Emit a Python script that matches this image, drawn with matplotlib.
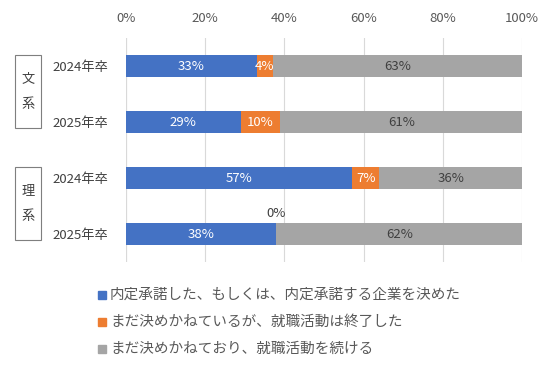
import numpy as np
import matplotlib.pyplot as plt
from matplotlib.patches import Rectangle

plt.rcParams['font.family'] = ['Noto Sans CJK JP', 'DejaVu Sans']

# データ
categories = ['2024年卒', '2025年卒', '2024年卒', '2025年卒']
groups = ['文系', '理系']
series_names = ['内定承諾した、もしくは、内定承諾する企業を決めた',
                'まだ決めかねているが、就職活動は終了した',
                'まだ決めかねており、就職活動を続ける']
decided = [33, 29, 57, 38]
undecided_end = [4, 10, 7, 0]
continuing = [63, 61, 36, 62]
colors = ['#4472C4', '#ED7D31', '#A5A5A5']
label_colors = ['white', 'white', '#404040']

fig = plt.figure(figsize=(5.5, 3.7), dpi=100)
ax = fig.add_axes([126/550, 1-262/370, 396/550, 224/370])

y = np.arange(len(categories))
left = np.zeros(len(categories))
for vals, c, lc, name in zip([decided, undecided_end, continuing], colors, label_colors, series_names):
    vals = np.array(vals)
    ax.barh(y, vals, left=left, height=0.4, color=c, label=name, zorder=3)
    for yi, l, v in zip(y, left, vals):
        if v > 0:
            ax.text(l + v/2, yi, f'{v}%', ha='center', va='center', color=lc, fontsize=9.5, zorder=4)
        else:
            ax.text(l, yi - 0.36, f'{v}%', ha='center', va='center', color='#404040', fontsize=9.5, zorder=4)
    left = left + vals

ax.set_xlim(0, 100)
ax.set_ylim(len(categories) - 0.5, -0.5)
ax.xaxis.tick_top()
ax.set_xticks(range(0, 101, 20))
ax.set_xticklabels([f'{t}%' for t in range(0, 101, 20)], fontsize=9.5, color='#595959')
ax.tick_params(axis='x', length=0, pad=9)
ax.set_yticks(y)
ax.set_yticklabels(categories, fontsize=9.5, color='#404040')
ax.tick_params(axis='y', length=0, pad=13)
ax.grid(axis='x', color='#D9D9D9', linewidth=0.8, zorder=0)
for s in ax.spines.values():
    s.set_visible(False)
ax.axvline(0, color='#D9D9D9', linewidth=0.8, zorder=2)

# 文系・理系の枠
for (y0, y1), g in zip([(55, 128), (167, 240)], groups):
    fig.patches.append(Rectangle((15/550, 1-y1/370), 26/550, (y1-y0)/370,
                                 transform=fig.transFigure, fill=False,
                                 edgecolor='#7F7F7F', linewidth=0.8))
    yc = (y0 + y1) / 2
    fig.text(28/550, 1-(yc-13)/370, g[0], ha='center', va='center', fontsize=9.5, color='#404040')
    fig.text(28/550, 1-(yc+13)/370, g[1], ha='center', va='center', fontsize=9.5, color='#404040')

# 凡例
for i, (name, c) in enumerate(zip(series_names, colors)):
    yy = 1 - (295 + 27*i)/370
    fig.patches.append(Rectangle((98/550, yy - 4/370), 8/550, 8/370,
                                 transform=fig.transFigure, color=c))
    fig.text(110/550, yy, name, ha='left', va='center', fontsize=10.5, color='#595959')

fig.savefig('out.png', dpi=100)
